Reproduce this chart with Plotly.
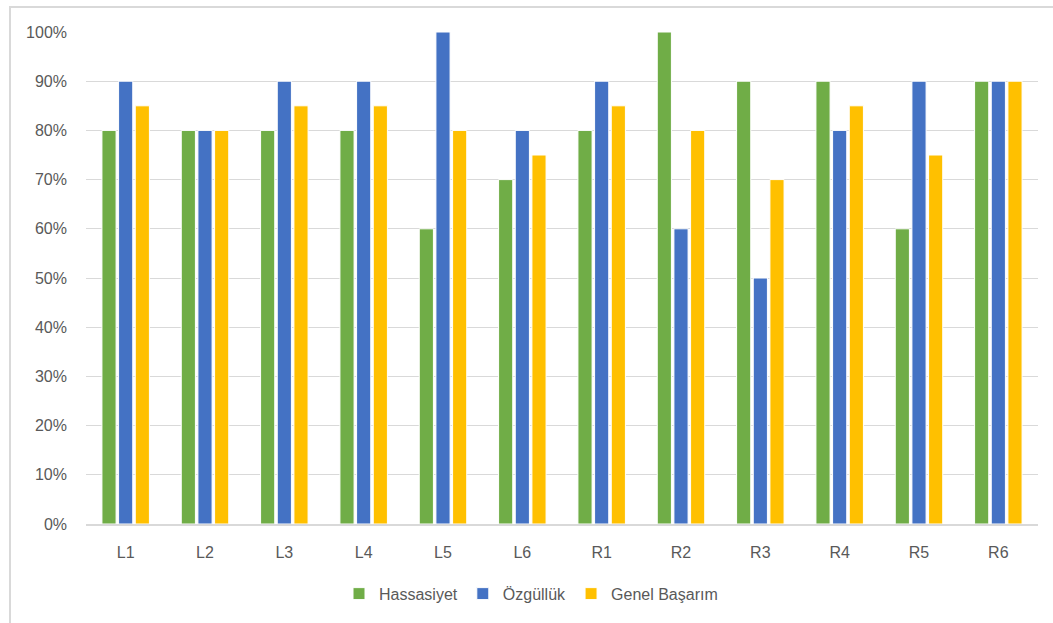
import plotly.graph_objects as go

categories = ["L1", "L2", "L3", "L4", "L5", "L6", "R1", "R2", "R3", "R4", "R5", "R6"]
hassasiyet = [0.80, 0.80, 0.80, 0.80, 0.60, 0.70, 0.80, 1.00, 0.90, 0.90, 0.60, 0.90]
ozgulluk = [0.90, 0.80, 0.90, 0.90, 1.00, 0.80, 0.90, 0.60, 0.50, 0.80, 0.90, 0.90]
genel_basarim = [0.85, 0.80, 0.85, 0.85, 0.80, 0.75, 0.85, 0.80, 0.70, 0.85, 0.75, 0.90]

series = [
    ("Hassasiyet", hassasiyet, "#70AD47"),
    ("Özgüllük", ozgulluk, "#4472C4"),
    ("Genel Başarım", genel_basarim, "#FFC000"),
]

W, H = 1053, 623
L, R, T, B = 86, 15, 32, 97
pw, ph = W - L - R, H - T - B

fig = go.Figure()
for name, vals, color in series:
    fig.add_trace(go.Bar(
        x=categories, y=vals, name=name,
        marker=dict(color=color, line=dict(color="white", width=1)),
    ))

grey = "#595959"
font = "Liberation Sans, Arial, sans-serif"

# outer chart frame (runs off the right and bottom edges)
fig.add_shape(
    type="rect", xref="paper", yref="paper",
    x0=(10 - L) / pw, x1=(1070 - L) / pw,
    y0=(H - B - 640) / ph, y1=(H - B - 7) / ph,
    line=dict(color="#D9D9D9", width=2), fillcolor="rgba(0,0,0,0)", layer="below",
)

fig.update_layout(
    width=W, height=H,
    margin=dict(l=L, r=R, t=T, b=B),
    paper_bgcolor="white", plot_bgcolor="white",
    barmode="group", bargap=0.37, bargroupgap=0.15,
    font=dict(family=font, size=16, color=grey),
    showlegend=True,
    legend=dict(orientation="h", x=(531 - L) / pw, xanchor="center",
                y=(H - B - 596) / ph, yanchor="middle",
                font=dict(size=16, color=grey),
                itemwidth=30, traceorder="normal"),
    xaxis=dict(showgrid=False, showline=True, linecolor="#D9D9D9", linewidth=2,
               ticks="", ticklabelstandoff=13, tickfont=dict(size=16, color=grey)),
    yaxis=dict(range=[0, 1.0], dtick=0.1, tickformat=".0%", showgrid=True,
               gridcolor="#D9D9D9", gridwidth=1, zeroline=False, showline=False,
               ticks="", ticklabelstandoff=18, tickfont=dict(size=16, color=grey)),
)

fig.write_html("out.html")
